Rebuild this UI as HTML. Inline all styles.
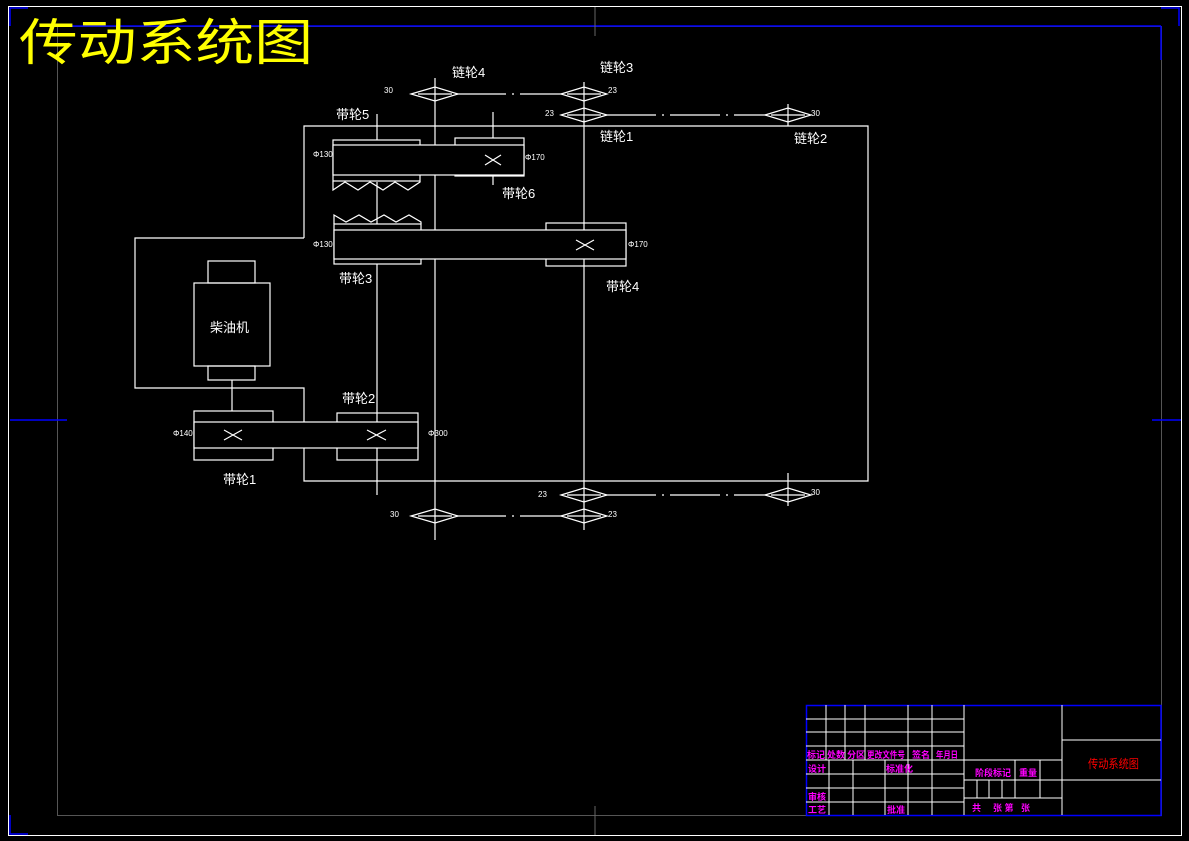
<!DOCTYPE html>
<html><head><meta charset="utf-8"><style>
html,body{margin:0;padding:0;background:#000;}
svg{display:block;}
text{font-family:"Liberation Sans","Noto Sans CJK SC",sans-serif;}
</style></head><body>
<svg width="1189" height="841" viewBox="0 0 1189 841" xmlns="http://www.w3.org/2000/svg">
<rect width="1189" height="841" fill="#000"/>
<rect x="8.5" y="6.5" width="1173" height="829" fill="none" stroke="#fff" stroke-width="1"/>
<rect x="57.5" y="26.5" width="1104" height="789" fill="none" stroke="#555" stroke-width="1"/>
<g stroke="#00f" stroke-width="1.5" fill="none">
<line x1="57" y1="26" x2="1161" y2="26"/>
<line x1="1161" y1="26" x2="1161" y2="60"/>
<polyline points="10,26 10,8 28,8"/>
<polyline points="1161,8 1179,8 1179,26"/>
<polyline points="10,815 10,834 28,834"/>
<line x1="10" y1="420" x2="67" y2="420"/>
<line x1="1152" y1="420" x2="1181" y2="420"/>
</g>
<g stroke="#666" stroke-width="1">
<line x1="595" y1="7" x2="595" y2="36"/>
<line x1="595" y1="806" x2="595" y2="835"/>
</g>
<text x="19" y="60" font-size="50" fill="#ff0" font-family="'Noto Sans CJK SC',sans-serif" textLength="294" lengthAdjust="spacingAndGlyphs">传动系统图</text>

<g stroke="#fff" stroke-width="1.2" fill="none">
<polyline points="304,238 304,126 868,126 868,481 304,481 304,448"/>
<polyline points="304,238 135,238 135,388 304,388 304,422"/>
<line x1="435" y1="78" x2="435" y2="540"/>
<line x1="584" y1="82" x2="584" y2="530"/>
<line x1="788" y1="104" x2="788" y2="126"/>
<line x1="788" y1="473" x2="788" y2="506"/>
<line x1="377" y1="114" x2="377" y2="140"/>
<line x1="377" y1="182" x2="377" y2="224"/>
<line x1="377" y1="264" x2="377" y2="495"/>
<line x1="493" y1="112" x2="493" y2="138"/>
<line x1="493" y1="176" x2="493" y2="185"/>
<line x1="456" y1="94" x2="562" y2="94" stroke-dasharray="50,6,2,6"/>
<line x1="606" y1="115" x2="766" y2="115" stroke-dasharray="50,6,2,6"/>
<line x1="606" y1="495" x2="766" y2="495" stroke-dasharray="50,6,2,6"/>
<line x1="456" y1="516" x2="562" y2="516" stroke-dasharray="50,6,2,6"/>
<polygon points="411,94 435,87 458,94 435,101"/><line x1="418" y1="94" x2="452" y2="94"/>
<polygon points="561,94 584,87 607,94 584,101"/><line x1="567" y1="94" x2="601" y2="94"/>
<polygon points="561,115 584,108 607,115 584,122"/><line x1="567" y1="115" x2="601" y2="115"/>
<polygon points="765,115 788,108 811,115 788,122"/><line x1="771" y1="115" x2="805" y2="115"/>
<polygon points="561,495 584,488 607,495 584,502"/><line x1="567" y1="495" x2="601" y2="495"/>
<polygon points="765,495 788,488 811,495 788,502"/><line x1="771" y1="495" x2="805" y2="495"/>
<polygon points="561,516 584,509 607,516 584,523"/><line x1="567" y1="516" x2="601" y2="516"/>
<polygon points="411,516 435,509 458,516 435,523"/><line x1="418" y1="516" x2="452" y2="516"/>
<rect x="333" y="140" width="87" height="41"/>
<rect x="455" y="138" width="69" height="38"/>
<rect x="333" y="145" width="191" height="30" fill="#000"/>
<polyline points="333,181 333,190 345,182 358,190 370,182 383,190 395,182 408,190 420,182 420,181"/>
<path d="M485,155 L501,165 M485,165 L501,155"/>
<rect x="334" y="224" width="87" height="40"/>
<rect x="546" y="223" width="80" height="43"/>
<rect x="334" y="230" width="292" height="29" fill="#000"/>
<polyline points="334,224 334,215 346,222 359,215 371,222 384,215 396,222 409,215 421,222 421,224"/>
<path d="M576,240 L594,250 M576,250 L594,240"/>
<rect x="194" y="411" width="79" height="49"/>
<rect x="337" y="413" width="81" height="47"/>
<rect x="194" y="422" width="224" height="26" fill="#000"/>
<path d="M224,430 L242,440 M224,440 L242,430 M367,430 L386,440 M367,440 L386,430"/>
<rect x="208" y="261" width="47" height="22"/>
<rect x="194" y="283" width="76" height="83"/>
<rect x="208" y="366" width="47" height="14"/>
<line x1="232" y1="380" x2="232" y2="411"/>
</g>
<g fill="#fff" font-size="13" font-family="'Noto Sans CJK SC',sans-serif">
<text x="452" y="77">链轮4</text>
<text x="600" y="72">链轮3</text>
<text x="600" y="141">链轮1</text>
<text x="794" y="143">链轮2</text>
<text x="336" y="119">带轮5</text>
<text x="502" y="198">带轮6</text>
<text x="339" y="283">带轮3</text>
<text x="606" y="291">带轮4</text>
<text x="342" y="403">带轮2</text>
<text x="223" y="484">带轮1</text>
<text x="210" y="332">柴油机</text>
</g>
<g fill="#fff" font-size="8">
<text x="384" y="93">30</text><text x="608" y="93">23</text>
<text x="545" y="116">23</text><text x="811" y="116">30</text>
<text x="538" y="497">23</text><text x="811" y="495">30</text>
<text x="390" y="517">30</text><text x="608" y="517">23</text>
<text x="313" y="157">Φ130</text><text x="525" y="160">Φ170</text>
<text x="313" y="247">Φ130</text><text x="628" y="247">Φ170</text>
<text x="173" y="436">Φ140</text><text x="428" y="436">Φ300</text>
</g>
<rect x="806.5" y="705.5" width="354.5" height="110" fill="none" stroke="#00f" stroke-width="1.5"/>
<g stroke="#fff" stroke-width="1" fill="none">
<line x1="806" y1="719" x2="964" y2="719"/>
<line x1="806" y1="732" x2="964" y2="732"/>
<line x1="806" y1="746" x2="964" y2="746"/>
<line x1="806" y1="760" x2="1062" y2="760"/>
<line x1="806" y1="774" x2="964" y2="774"/>
<line x1="806" y1="788" x2="964" y2="788"/>
<line x1="806" y1="802" x2="964" y2="802"/>
<line x1="826" y1="705" x2="826" y2="760"/>
<line x1="845" y1="705" x2="845" y2="760"/>
<line x1="865" y1="705" x2="865" y2="760"/>
<line x1="908" y1="705" x2="908" y2="815"/>
<line x1="932" y1="705" x2="932" y2="815"/>
<line x1="964" y1="705" x2="964" y2="815"/>
<line x1="1062" y1="705" x2="1062" y2="815"/>
<line x1="829" y1="760" x2="829" y2="815"/>
<line x1="853" y1="760" x2="853" y2="815"/>
<line x1="885" y1="760" x2="885" y2="815"/>
<line x1="964" y1="780" x2="1062" y2="780"/>
<line x1="964" y1="798" x2="1062" y2="798"/>
<line x1="1015" y1="760" x2="1015" y2="798"/>
<line x1="1040" y1="760" x2="1040" y2="798"/>
<line x1="977" y1="780" x2="977" y2="798"/>
<line x1="989" y1="780" x2="989" y2="798"/>
<line x1="1002" y1="780" x2="1002" y2="798"/>
<line x1="1062" y1="740" x2="1161" y2="740"/>
<line x1="1062" y1="780" x2="1161" y2="780"/>
</g>
<g fill="#f0f" font-size="9" font-weight="bold" font-family="'Noto Sans CJK SC',sans-serif">
<text x="807" y="758">标记</text><text x="827" y="758">处数</text><text x="847" y="758">分区</text>
<text x="867" y="758" textLength="38" lengthAdjust="spacingAndGlyphs">更改文件号</text><text x="912" y="758">签名</text><text x="936" y="758" textLength="22" lengthAdjust="spacingAndGlyphs">年月日</text>
<text x="808" y="772">设计</text><text x="886" y="772">标准化</text>
<text x="808" y="800">审核</text><text x="808" y="813">工艺</text><text x="887" y="813">批准</text>
<text x="975" y="776">阶段标记</text><text x="1019" y="776">重量</text>
<text x="972" y="811">共</text><text x="993" y="811">张 第</text><text x="1021" y="811">张</text>
</g>
<text x="1088" y="768" fill="#f00" font-size="12" font-family="'Noto Sans CJK SC',sans-serif" textLength="51" lengthAdjust="spacingAndGlyphs">传动系统图</text>
</svg>
</body></html>
